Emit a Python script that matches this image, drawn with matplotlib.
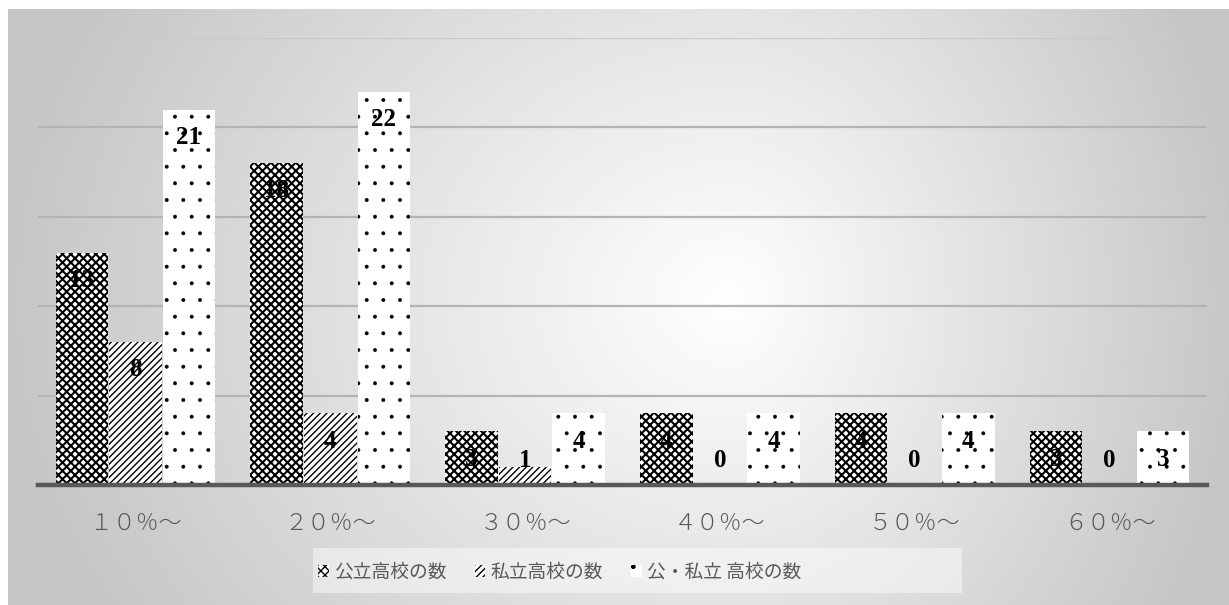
import numpy as np
import matplotlib
matplotlib.use("Agg")
import matplotlib.pyplot as plt
from matplotlib.patches import Patch, Rectangle

categories = ["１０％～", "２０％～", "３０％～", "４０％～", "５０％～", "６０％～"]
series_names = ["公立高校の数", "私立高校の数", "公・私立 高校の数"]
public_vals = [13, 18, 3, 4, 4, 3]
private_vals = [8, 4, 1, 0, 0, 0]
total_vals = [21, 22, 4, 4, 4, 3]

plt.rcParams['font.family'] = ['Noto Sans CJK JP', 'DejaVu Sans']

W, H = 1229, 605
fig = plt.figure(figsize=(W / 100, H / 100), dpi=100)
fig.patch.set_facecolor('white')

# background gradient panel
bx0, by0 = 8, 9
bg = fig.add_axes([bx0 / W, 0, 1 - bx0 / W, 1 - by0 / H])
bg.set_axis_off()
gw, gh = W - bx0, H - by0
xx, yy = np.meshgrid(np.arange(gw) + bx0, np.arange(gh) + by0)
cx, cy = 730, 300
dx = np.where(xx < cx, (xx - cx) / 740.0, (xx - cx) / 520.0)
dy = (yy - cy) / 620.0
r = np.clip(np.sqrt(dx ** 2 + dy ** 2), 0, 1)
val = 255 - 58 * r
img = np.dstack([val, val, val]) / 255.0
bg.imshow(img, aspect='auto', extent=[0, 1, 0, 1], origin='upper')
bg.set_xlim(0, 1)
bg.set_ylim(0, 1)

# legend backdrop box
fig.patches.append(Rectangle((313 / W, 1 - 593 / H), (962 - 313) / W, (593 - 548) / H,
                             transform=fig.transFigure, facecolor='white',
                             alpha=0.45, edgecolor='none', zorder=1))

# main axes
left, right = 38 / W, 1207 / W
bottom, top = 1 - 485 / H, 1 - 38 / H
ax = fig.add_axes([left, bottom, right - left, top - bottom])
ax.patch.set_alpha(0)
ax.set_ylim(0, 25)
ax.set_xlim(-0.5, len(categories) - 0.5)
for s in ax.spines.values():
    s.set_visible(False)
ax.set_yticks([5, 10, 15, 20, 25])
ax.yaxis.grid(True, color='#b4b4b4', linewidth=1.6)
ax.get_ygridlines()[-1].set_color('#c9c9c9')
ax.set_axisbelow(True)
ax.tick_params(axis='y', left=False, labelleft=False)
ax.tick_params(axis='x', bottom=False, pad=15, labelsize=16.5, labelcolor='#595959')
x = np.arange(len(categories))
ax.set_xticks(x)
ax.set_xticklabels(categories)
for t in ax.get_xticklabels():
    t.set_fontweight('light')
ax.axhline(0, color='#595959', linewidth=3.2, zorder=5, clip_on=False)

width = 0.27
offsets = [-0.275, 0.0, 0.275]
hatches = ['xxxx', '/////', '.']
hatch_lws = [1.5, 1.0, 0.35]
all_vals = [public_vals, private_vals, total_vals]
handles = []
for vals, off, hat, hlw, name in zip(all_vals, offsets, hatches, hatch_lws, series_names):
    with plt.rc_context({'hatch.linewidth': hlw}):
        ax.bar(x + off, vals, width, facecolor='white', edgecolor='black',
               linewidth=0, hatch=hat, zorder=3)
        handles.append(Patch(facecolor='white', edgecolor='black', linewidth=0,
                             hatch=hat, label=name))
    for xi, v in zip(x, vals):
        ax.text(xi + off, max(v - 1.55, 1.35), str(v), ha='center', va='center',
                fontsize=18, fontweight='bold', family='Liberation Serif',
                color='black', zorder=6)

leg = fig.legend(handles=handles, loc='center', bbox_to_anchor=(560 / W, 1 - 572 / H),
                 ncol=3, frameon=False, fontsize=13.5, handlelength=0.55,
                 handleheight=0.55, handletextpad=0.3, columnspacing=1.5,
                 borderpad=0.6)
for t in leg.get_texts():
    t.set_color('#595959')

fig.savefig('out.png', dpi=100)
